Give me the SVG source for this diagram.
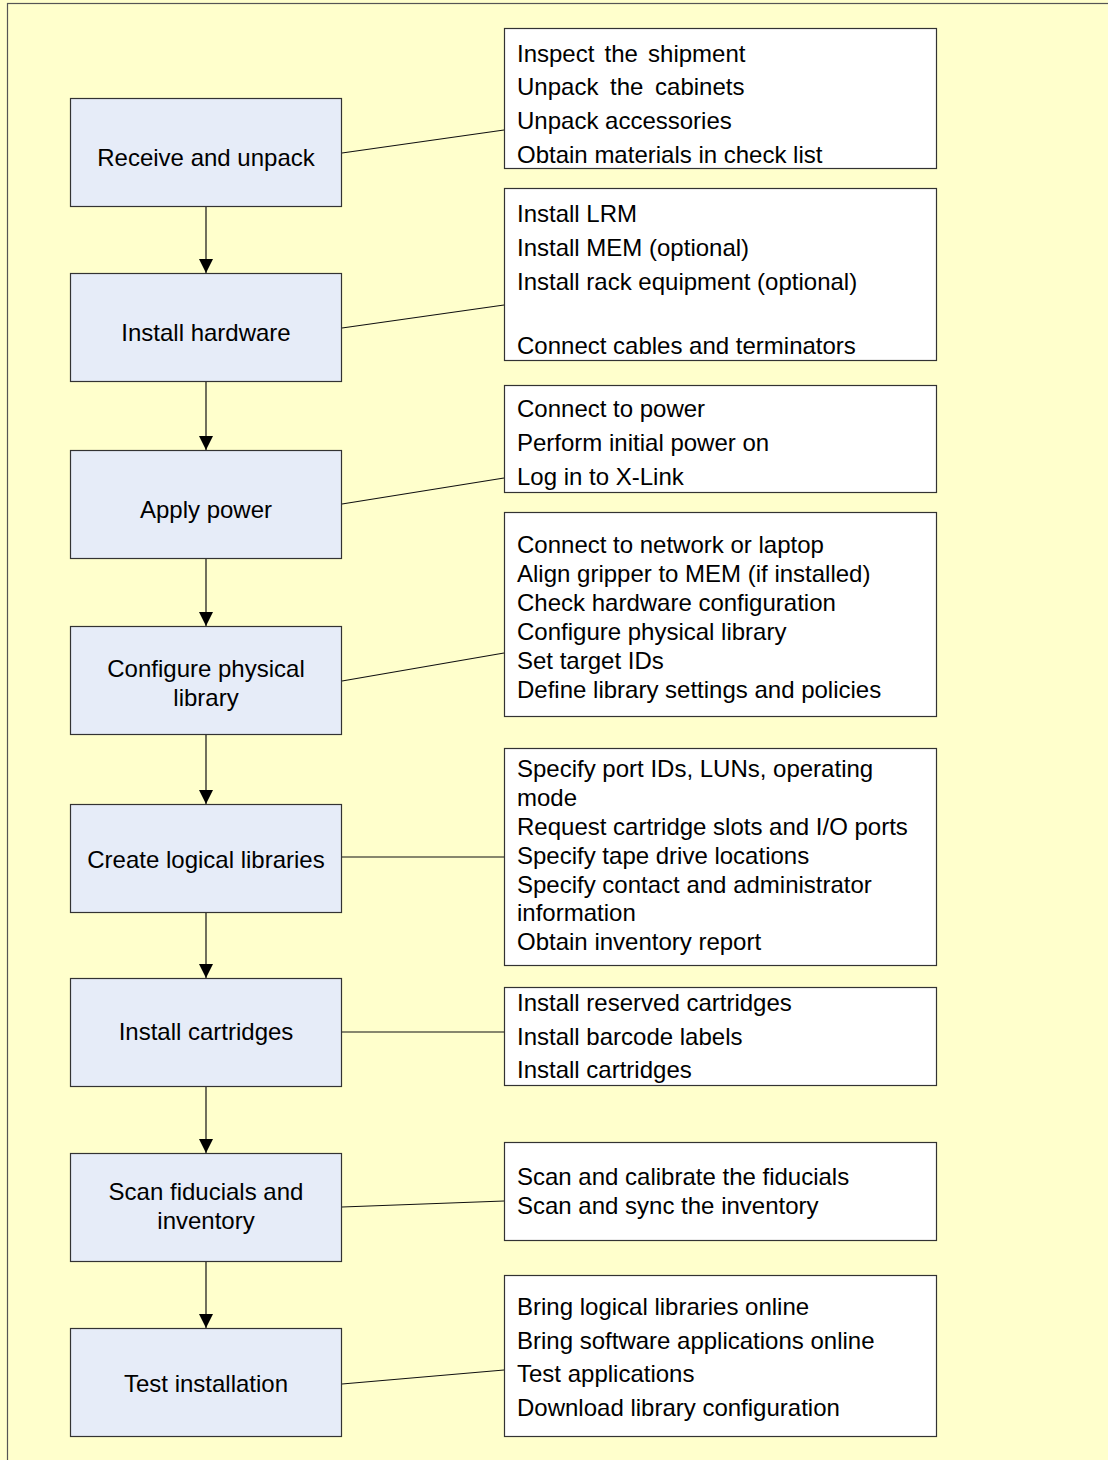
<svg xmlns="http://www.w3.org/2000/svg" width="1108" height="1460" viewBox="0 0 1108 1460">
<style>
  text { font-family: "Liberation Sans", Arial, sans-serif; font-size: 24px; fill: #000; }
  .step rect { fill: #E6ECF8; stroke: #333; stroke-width: 1.2; }
  .step text { text-anchor: middle; }
  .note rect { fill: #FFFFFF; stroke: #333; stroke-width: 1.2; }
  .conn line { stroke: #111; stroke-width: 1.2; }
</style>
<defs>
  <marker id="arr" markerWidth="14" markerHeight="14" refX="14" refY="7" orient="auto" markerUnits="userSpaceOnUse">
    <path d="M0,0 L14,7 L0,14 Z" fill="#000"/>
  </marker>
</defs>
<rect x="0" y="0" width="1108" height="1460" fill="#FFFFCC"/>
<rect x="7.5" y="3.5" width="1120" height="1480" fill="none" stroke="#555" stroke-width="1.2"/>

<g id="step1" class="step"><rect x="70.5" y="98.5" width="271" height="108"/><text x="206" y="166">Receive and unpack</text></g>
<g id="step2" class="step"><rect x="70.5" y="273.5" width="271" height="108"/><text x="206" y="341">Install hardware</text></g>
<g id="step3" class="step"><rect x="70.5" y="450.5" width="271" height="108"/><text x="206" y="518">Apply power</text></g>
<g id="step4" class="step"><rect x="70.5" y="626.5" width="271" height="108"/><text x="206" y="677">Configure physical</text><text x="206" y="706">library</text></g>
<g id="step5" class="step"><rect x="70.5" y="804.5" width="271" height="108"/><text x="206" y="868">Create logical libraries</text></g>
<g id="step6" class="step"><rect x="70.5" y="978.5" width="271" height="108"/><text x="206" y="1040">Install cartridges</text></g>
<g id="step7" class="step"><rect x="70.5" y="1153.5" width="271" height="108"/><text x="206" y="1200">Scan fiducials and</text><text x="206" y="1229">inventory</text></g>
<g id="step8" class="step"><rect x="70.5" y="1328.5" width="271" height="108"/><text x="206" y="1392">Test installation</text></g>

<g id="note1" class="note"><rect x="504.5" y="28.5" width="432" height="140"/>
  <text x="517" y="62" word-spacing="3.5">Inspect the shipment</text>
  <text x="517" y="95" word-spacing="5">Unpack the cabinets</text>
  <text x="517" y="129">Unpack accessories</text>
  <text x="517" y="163">Obtain materials in check list</text>
</g>
<g id="note2" class="note"><rect x="504.5" y="188.5" width="432" height="172"/>
  <text x="517" y="222">Install LRM</text>
  <text x="517" y="256">Install MEM (optional)</text>
  <text x="517" y="290">Install rack equipment (optional)</text>
  <text x="517" y="354">Connect cables and terminators</text>
</g>
<g id="note3" class="note"><rect x="504.5" y="385.5" width="432" height="107"/>
  <text x="517" y="417">Connect to power</text>
  <text x="517" y="451">Perform initial power on</text>
  <text x="517" y="485">Log in to X-Link</text>
</g>
<g id="note4" class="note"><rect x="504.5" y="512.5" width="432" height="204"/>
  <text x="517" y="553">Connect to network or laptop</text>
  <text x="517" y="582">Align gripper to MEM (if installed)</text>
  <text x="517" y="611">Check hardware configuration</text>
  <text x="517" y="640">Configure physical library</text>
  <text x="517" y="669">Set target IDs</text>
  <text x="517" y="698">Define library settings and policies</text>
</g>
<g id="note5" class="note"><rect x="504.5" y="748.5" width="432" height="217"/>
  <text x="517" y="777">Specify port IDs, LUNs, operating</text>
  <text x="517" y="806">mode</text>
  <text x="517" y="835">Request cartridge slots and I/O ports</text>
  <text x="517" y="864">Specify tape drive locations</text>
  <text x="517" y="893">Specify contact and administrator</text>
  <text x="517" y="921">information</text>
  <text x="517" y="950">Obtain inventory report</text>
</g>
<g id="note6" class="note"><rect x="504.5" y="987.5" width="432" height="98"/>
  <text x="517" y="1011">Install reserved cartridges</text>
  <text x="517" y="1045">Install barcode labels</text>
  <text x="517" y="1078">Install cartridges</text>
</g>
<g id="note7" class="note"><rect x="504.5" y="1142.5" width="432" height="98"/>
  <text x="517" y="1185">Scan and calibrate the fiducials</text>
  <text x="517" y="1214">Scan and sync the inventory</text>
</g>
<g id="note8" class="note"><rect x="504.5" y="1275.5" width="432" height="161"/>
  <text x="517" y="1315">Bring logical libraries online</text>
  <text x="517" y="1349">Bring software applications online</text>
  <text x="517" y="1382">Test applications</text>
  <text x="517" y="1416">Download library configuration</text>
</g>

<g id="connectors" class="conn">
  <line x1="206" y1="207" x2="206" y2="273" marker-end="url(#arr)"/>
  <line x1="206" y1="382" x2="206" y2="450" marker-end="url(#arr)"/>
  <line x1="206" y1="559" x2="206" y2="626" marker-end="url(#arr)"/>
  <line x1="206" y1="735" x2="206" y2="804" marker-end="url(#arr)"/>
  <line x1="206" y1="913" x2="206" y2="978" marker-end="url(#arr)"/>
  <line x1="206" y1="1087" x2="206" y2="1153" marker-end="url(#arr)"/>
  <line x1="206" y1="1262" x2="206" y2="1328" marker-end="url(#arr)"/>
  <line x1="342" y1="153" x2="504" y2="130"/>
  <line x1="342" y1="328" x2="504" y2="305"/>
  <line x1="342" y1="504" x2="504" y2="478"/>
  <line x1="342" y1="681" x2="504" y2="653"/>
  <line x1="342" y1="857" x2="504" y2="857"/>
  <line x1="342" y1="1032" x2="504" y2="1032"/>
  <line x1="342" y1="1207" x2="504" y2="1201"/>
  <line x1="342" y1="1384" x2="504" y2="1370"/>
</g>
</svg>
